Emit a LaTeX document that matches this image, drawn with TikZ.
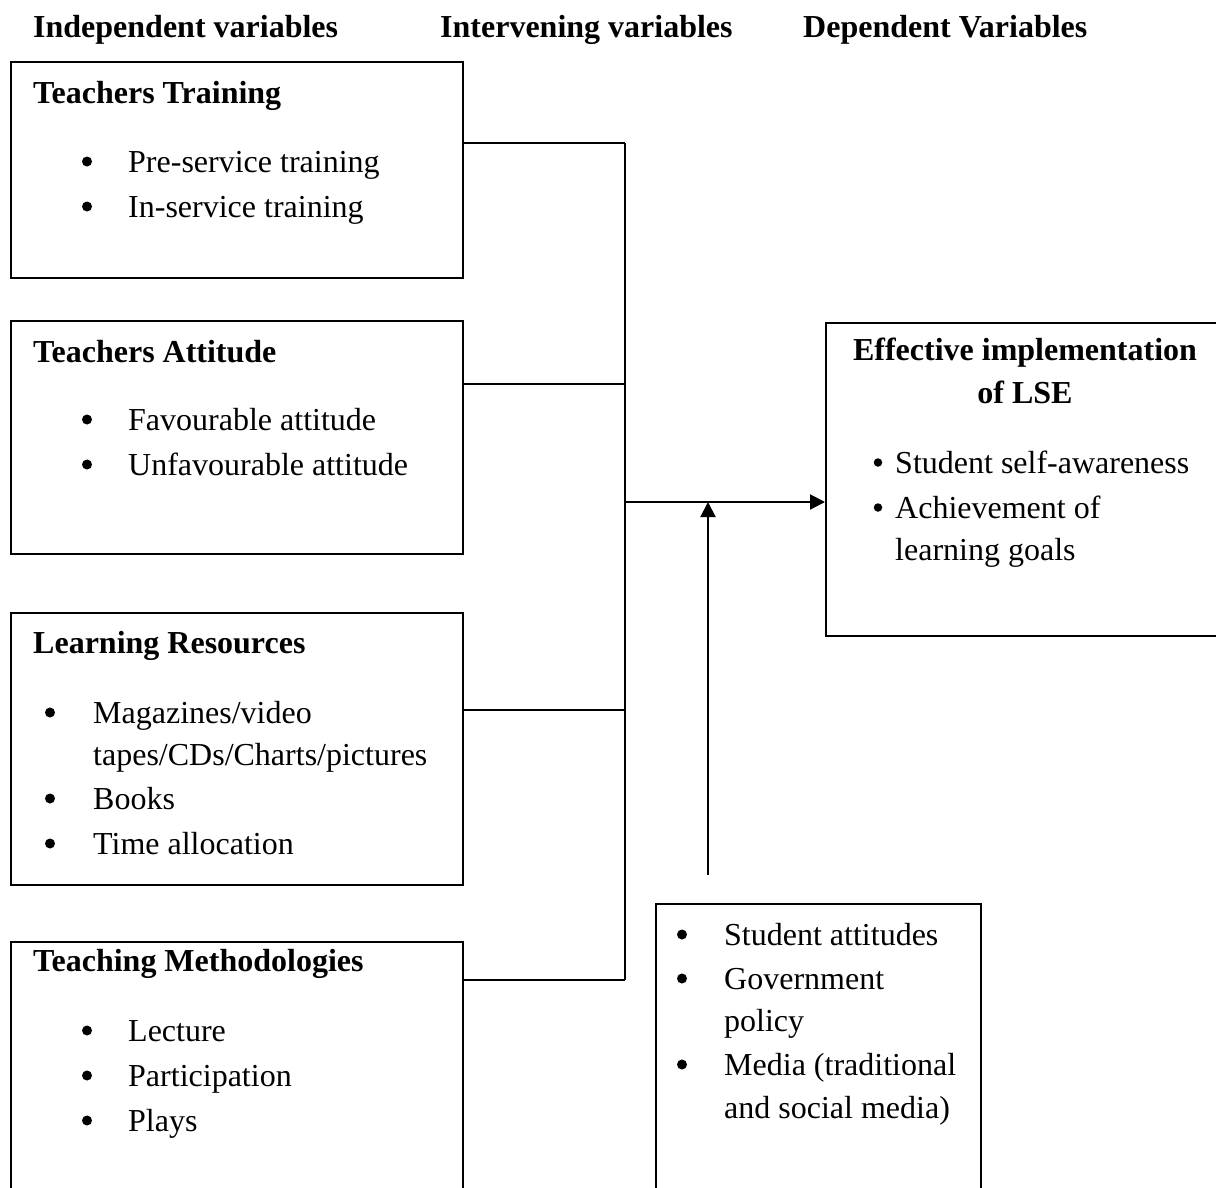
\documentclass[tikz,border=0pt]{standalone}
\usepackage{fontspec}
\setmainfont{Liberation Serif}
\usetikzlibrary{arrows.meta}

\begin{document}
\begin{tikzpicture}[x=1pt,y=-1pt,
                    box/.style = {draw, line width=1.6pt, anchor=north west, inner sep=0pt},
                    head/.style = {anchor=base west, inner sep=0pt, font=\fontsize{32}{38}\selectfont\bfseries},
                    item/.style = {anchor=base west, inner sep=0pt, font=\fontsize{32}{38}\selectfont},
                    dot/.style = {circle, fill, inner sep=0pt, minimum size=10pt, yshift=10.5pt},
                    link/.style = {line width=1.6pt},
                    flow/.style = {line width=2pt, -{Triangle[length=15pt,width=15pt]}}]
                    \useasboundingbox (0,0) rectangle (1216,1187);
                    \clip (0,0) rectangle (1216,1187);

                    % column heads
                    \node[head] (indep) at (33,37) {Independent variables};
                    \node[head] (interv) at (440,37) {Intervening variables};
                    \node[head] (dep) at (803,37) {Dependent Variables};

                    % independent variables
                    \node[box, minimum width=452pt, minimum height=216pt] (train) at (10,61) {};
                    \node[head] (trainT) at (33,103) {Teachers Training};
                    \node[dot] (b11) at (87,172) {};
                    \node[item] (i11) at (128,172) {Pre-service training};
                    \node[dot] (b12) at (87,217) {};
                    \node[item] (i12) at (128,217) {In-service training};

                    \node[box, minimum width=452pt, minimum height=233pt] (attit) at (10,320) {};
                    \node[head] (attitT) at (33,362) {Teachers Attitude};
                    \node[dot] (b21) at (87,430) {};
                    \node[item] (i21) at (128,430) {Favourable attitude};
                    \node[dot] (b22) at (87,475) {};
                    \node[item] (i22) at (128,475) {Unfavourable attitude};

                    \node[box, minimum width=452pt, minimum height=272pt] (res) at (10,612) {};
                    \node[head] (resT) at (33,653) {Learning Resources};
                    \node[dot] (b31) at (50,723) {};
                    \node[item] (i31) at (93,723) {Magazines/video};
                    \node[item] (i31b) at (93,765) {tapes/CDs/Charts/pictures};
                    \node[dot] (b32) at (50,809) {};
                    \node[item] (i32) at (93,809) {Books};
                    \node[dot] (b33) at (50,854) {};
                    \node[item] (i33) at (93,854) {Time allocation};

                    \node[box, minimum width=452pt, minimum height=270pt] (meth) at (10,941) {};
                    \node[head] (methT) at (33,971) {Teaching Methodologies};
                    \node[dot] (b41) at (87,1041) {};
                    \node[item] (i41) at (128,1041) {Lecture};
                    \node[dot] (b42) at (87,1086) {};
                    \node[item] (i42) at (128,1086) {Participation};
                    \node[dot] (b43) at (87,1131) {};
                    \node[item] (i43) at (128,1131) {Plays};

                    % dependent variable
                    \node[box, minimum width=420pt, minimum height=313pt] (lse) at (825,322) {};
                    \node[head, anchor=base] (lseT) at (1025,360) {Effective implementation};
                    \node[head, anchor=base] (lseT2) at (1025,403) {of LSE};
                    \node[dot, minimum size=8.5pt] (b51) at (878,473) {};
                    \node[item] (i51) at (895,473) {Student self-awareness};
                    \node[dot, minimum size=8.5pt] (b52) at (878,518) {};
                    \node[item] (i52) at (895,518) {Achievement of};
                    \node[item] (i52b) at (895,560) {learning goals};

                    % intervening variables
                    \node[box, minimum width=325pt, minimum height=310pt] (inter) at (655,903) {};
                    \node[dot] (b61) at (682,945) {};
                    \node[item] (i61) at (724,945) {Student attitudes};
                    \node[dot] (b62) at (682,989) {};
                    \node[item] (i62) at (724,989) {Government};
                    \node[item] (i62b) at (724,1031) {policy};
                    \node[dot] (b63) at (682,1075) {};
                    \node[item] (i63) at (724,1075) {Media (traditional};
                    \node[item] (i63b) at (724,1118) {and social media)};

                    % connectors
                    \coordinate (j1) at (625,143);
                    \coordinate (j2) at (625,384);
                    \coordinate (j3) at (625,710);
                    \coordinate (j4) at (625,980);
                    \coordinate (jm) at (625,502);
                    \coordinate (src) at (708,875);

                    \draw[link] (train.east |- j1) -- (j1);
                    \draw[link] (attit.east |- j2) -- (j2);
                    \draw[link] (res.east |- j3) -- (j3);
                    \draw[link] (meth.east |- j4) -- (j4);
                    \draw[link] (j1) -- (j4);
                    \draw[flow] (jm) -- (lse.west |- jm);
                    \draw[flow] (src) -- (src |- jm);
                \end{tikzpicture}
\end{document}
